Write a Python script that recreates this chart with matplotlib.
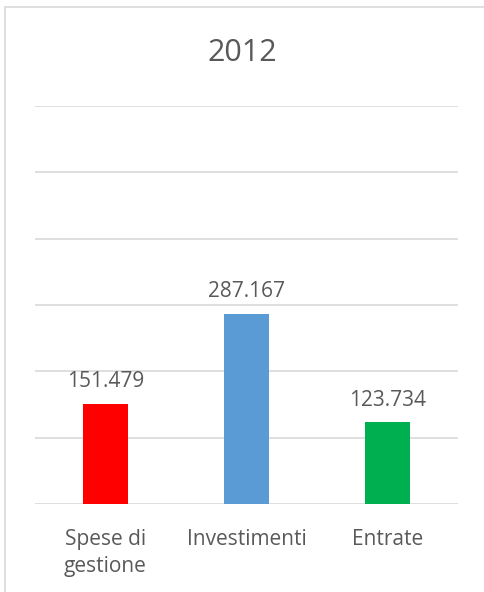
import matplotlib.pyplot as plt
from matplotlib.patches import Rectangle

# data (thousands)
categories = ["Spese di\ngestione", "Investimenti", "Entrate"]
values = [151.479, 287.167, 123.734]
value_labels = ["151.479", "287.167", "123.734"]
colors = ["#FF0000", "#5B9BD5", "#00B050"]
title = "2012"

plt.rcParams["font.family"] = ["Open Sans", "DejaVu Sans"]
text_color = "#595959"

fig = plt.figure(figsize=(4.85, 5.92), dpi=100)
# chart frame (only top and left edges show in the crop)
fig.patches.append(Rectangle((5 / 485, -0.1), 1.2, 1 - 7 / 592 + 0.1,
                             transform=fig.transFigure, fill=False,
                             edgecolor="#D9D9D9", linewidth=1.2))

ax = fig.add_axes([35 / 485, 88 / 592, 423 / 485, 398 / 592])
x = range(len(categories))
ax.bar(x, values, width=0.32, color=colors, zorder=2)
ax.set_xlim(-0.5, 2.5)
ax.set_ylim(0, 600)
ax.set_yticks(range(0, 601, 100))
ax.yaxis.grid(True, color="#D9D9D9", linewidth=1.2, zorder=0)
ax.tick_params(axis="y", left=False, labelleft=False)
ax.tick_params(axis="x", length=0, pad=18, labelsize=15, labelcolor=text_color)
ax.set_xticks(list(x))
ax.set_xticklabels(categories, linespacing=1.35, va="top")
for s in ax.spines.values():
    s.set_visible(False)

for xi, v, lab in zip(x, values, value_labels):
    ax.annotate(lab, (xi, v), xytext=(0, 8), textcoords="offset points",
                ha="center", va="bottom", fontsize=15, color=text_color)

fig.text(0.5, 1 - 53 / 592, title, ha="center", va="center",
         fontsize=22, color=text_color)

fig.savefig("out.png", dpi=100)
